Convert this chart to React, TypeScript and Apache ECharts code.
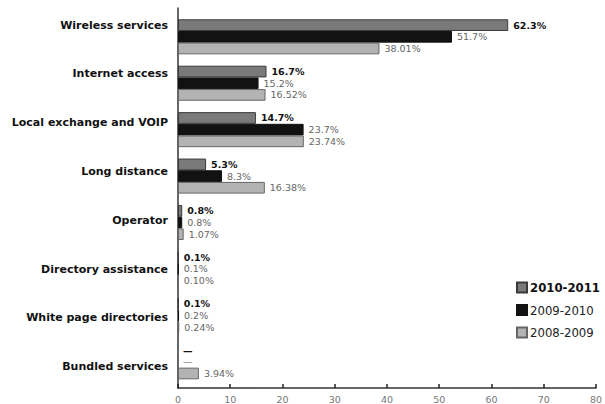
import React, { useEffect, useRef } from "react";
import * as echarts from "echarts";

const categories = [
  "Wireless services",
  "Internet access",
  "Local exchange and VOIP",
  "Long distance",
  "Operator",
  "Directory assistance",
  "White page directories",
  "Bundled services",
];
const seriesNames = ["2010-2011", "2009-2010", "2008-2009"];
const values2010_2011: (number | null)[] = [62.3, 16.7, 14.7, 5.3, 0.8, 0.1, 0.1, null];
const values2009_2010: (number | null)[] = [51.7, 15.2, 23.7, 8.3, 0.8, 0.1, 0.2, null];
const values2008_2009: (number | null)[] = [38.01, 16.52, 23.74, 16.38, 1.07, 0.1, 0.24, 3.94];
const xTicks = [0, 80, 10];

const FONT = "DejaVu Sans";
const CONDENSED = "'DejaVu Sans Condensed', 'Liberation Sans Narrow', 'DejaVu Sans'";

function makeSeries(
  name: string,
  raw: (number | null)[],
  decimals: number,
  fill: string,
  border: string,
  labelColor: string,
  bold: boolean
) {
  return {
    name,
    type: "bar",
    xAxisIndex: 1,
    yAxisIndex: 1,
    barGap: "0%",
    barCategoryGap: "24.5%",
    data: raw.map((v) =>
      v == null ? { value: 0, itemStyle: { borderWidth: 0 } } : v
    ),
    itemStyle: { color: fill, borderColor: border, borderWidth: 1 },
    label: {
      show: true,
      position: "right",
      distance: 5,
      fontFamily: FONT,
      fontSize: 9.5,
      fontWeight: bold ? "bold" : "normal",
      color: labelColor,
      formatter: (p: any) => {
        const v = raw[p.dataIndex];
        return v == null ? "—" : v.toFixed(decimals) + "%";
      },
    },
  };
}

export default function App() {
  const ref = useRef<HTMLDivElement>(null);
  useEffect(() => {
    if (!ref.current) return;
    const chart = echarts.init(ref.current, null, { renderer: "svg" });
    chart.setOption({
      animation: false,
      backgroundColor: "#ffffff",
      grid: [
        { left: 178, right: 3, top: 8, bottom: 15.5 },
        { left: 178, right: 3, top: 13.6, bottom: 19 },
        { left: 178, right: 3, top: 0.6, bottom: 12.9 },
      ],
      xAxis: [
        {
          gridIndex: 0,
          type: "value",
          min: xTicks[0],
          max: xTicks[1],
          interval: xTicks[2],
          axisLine: { show: true, lineStyle: { color: "#333", width: 1.5 } },
          axisTick: { show: true, inside: true, length: 4, lineStyle: { color: "#222", width: 1.5 } },
          axisLabel: { color: "#777", fontSize: 9.5, fontFamily: FONT, margin: 6 },
          splitLine: { show: false },
        },
        { gridIndex: 1, type: "value", min: xTicks[0], max: xTicks[1], show: false },
        { gridIndex: 2, type: "value", min: 0, max: 1, show: false },
      ],
      yAxis: [
        {
          gridIndex: 0,
          type: "value",
          min: 0,
          max: 1,
          axisLine: { show: true, lineStyle: { color: "#333", width: 1.5 } },
          axisTick: { show: false },
          axisLabel: { show: false },
          splitLine: { show: false },
        },
        { gridIndex: 1, type: "category", data: categories, inverse: true, show: false },
        {
          gridIndex: 2,
          type: "category",
          data: categories,
          inverse: true,
          axisLine: { show: false },
          axisTick: { show: false },
          axisLabel: {
            color: "#111",
            fontFamily: FONT,
            fontWeight: "bold",
            fontSize: 11,
            margin: 10,
          },
        },
      ],
      legend: {
        orient: "vertical",
        left: 511,
        top: 276,
        icon: "rect",
        itemWidth: 10,
        itemHeight: 10,
        itemGap: 9.5,
        textStyle: { fontFamily: CONDENSED, fontSize: 13, color: "#222", padding: [0, 0, 0, -2] },
        data: [
          { name: seriesNames[0], textStyle: { fontWeight: "bold", color: "#111" } },
          { name: seriesNames[1] },
          { name: seriesNames[2] },
        ],
      },
      series: [
        makeSeries(seriesNames[0], values2010_2011, 1, "#7a7a7a", "#3a3a3a", "#111", true),
        makeSeries(seriesNames[1], values2009_2010, 1, "#121212", "#121212", "#666", false),
        makeSeries(seriesNames[2], values2008_2009, 2, "#b3b3b3", "#666", "#666", false),
      ],
    });
    return () => chart.dispose();
  }, []);
  return <div ref={ref} style={{ width: 605, height: 404, position: "absolute", left: 0, top: 0 }} />;
}
